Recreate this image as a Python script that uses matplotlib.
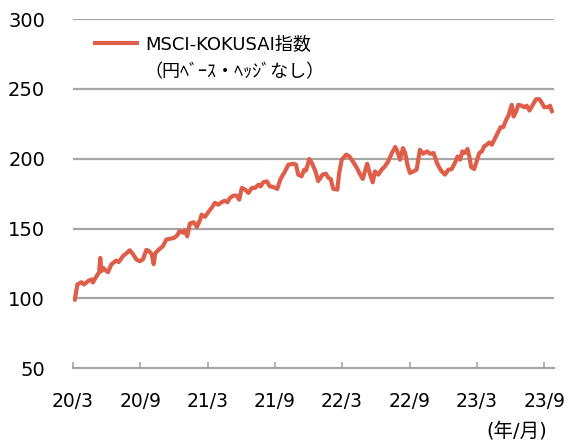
import matplotlib
matplotlib.use("Agg")
import matplotlib.pyplot as plt
import pandas as pd

plt.rcParams['font.family'] = ['DejaVu Sans', 'Noto Sans CJK JP']

dates = [
    "2020-03-31", "2020-04-05", "2020-04-12", "2020-04-23", "2020-04-30", "2020-05-11", "2020-05-20", "2020-05-24",
    "2020-06-02", "2020-06-10", "2020-06-13", "2020-06-16", "2020-06-21", "2020-06-27", "2020-07-04", "2020-07-13",
    "2020-07-26", "2020-08-02", "2020-08-14", "2020-08-23", "2020-09-01", "2020-09-10", "2020-09-19", "2020-09-28",
    "2020-10-07", "2020-10-16", "2020-10-23", "2020-10-31", "2020-11-05", "2020-11-09", "2020-11-19", "2020-11-30",
    "2020-12-09", "2020-12-18", "2020-12-30", "2021-01-08", "2021-01-14", "2021-01-23", "2021-01-28", "2021-02-04",
    "2021-02-11", "2021-02-22", "2021-03-02", "2021-03-11", "2021-03-15", "2021-03-24", "2021-04-02", "2021-04-11",
    "2021-04-20", "2021-04-29", "2021-05-08", "2021-05-17", "2021-05-24", "2021-05-31", "2021-06-09", "2021-06-18",
    "2021-06-25", "2021-07-02", "2021-07-11", "2021-07-20", "2021-07-29", "2021-08-07", "2021-08-16", "2021-08-22",
    "2021-08-29", "2021-09-08", "2021-09-16", "2021-09-25", "2021-10-06", "2021-10-15", "2021-10-27", "2021-11-05",
    "2021-11-19", "2021-11-26", "2021-12-02", "2021-12-11", "2021-12-18", "2021-12-23", "2022-01-01", "2022-01-08",
    "2022-01-17", "2022-01-25", "2022-02-06", "2022-02-15", "2022-02-22", "2022-02-28", "2022-03-07", "2022-03-18",
    "2022-03-23", "2022-03-30", "2022-04-11", "2022-04-20", "2022-04-29", "2022-05-10", "2022-05-19", "2022-05-26",
    "2022-06-01", "2022-06-07", "2022-06-15", "2022-06-22", "2022-06-28", "2022-07-07", "2022-07-16", "2022-07-25",
    "2022-08-03", "2022-08-13", "2022-08-22", "2022-08-28", "2022-09-04", "2022-09-12", "2022-09-18", "2022-09-24",
    "2022-10-01", "2022-10-10", "2022-10-19", "2022-10-28", "2022-11-06", "2022-11-16", "2022-11-25", "2022-12-04",
    "2022-12-13", "2022-12-20", "2022-12-26", "2023-01-04", "2023-01-13", "2023-01-22", "2023-01-31", "2023-02-07",
    "2023-02-14", "2023-02-20", "2023-02-27", "2023-03-06", "2023-03-11", "2023-03-16", "2023-03-24", "2023-03-31",
    "2023-04-07", "2023-04-14", "2023-04-20", "2023-04-27", "2023-05-04", "2023-05-11", "2023-05-20", "2023-05-29",
    "2023-06-04", "2023-06-11", "2023-06-19", "2023-06-25", "2023-06-30", "2023-07-04", "2023-07-09", "2023-07-16",
    "2023-07-22", "2023-07-31", "2023-08-07", "2023-08-14", "2023-08-21", "2023-08-30", "2023-09-08", "2023-09-17",
    "2023-09-24", "2023-09-30", "2023-10-09", "2023-10-16", "2023-10-23",
]

values = [
    100.0, 99.0, 110.0, 111.6, 110.0, 112.4, 113.6, 111.4,
    115.5, 118.8, 129.0, 119.5, 121.9, 120.2, 118.8, 124.3,
    127.1, 126.0, 130.4, 132.3, 134.5, 131.6, 127.9, 126.6,
    128.0, 134.7, 134.0, 131.4, 124.5, 132.3, 135.0, 137.4,
    142.1, 142.6, 143.3, 145.2, 148.2, 147.0, 148.8, 144.5,
    153.6, 154.5, 151.2, 156.4, 160.0, 158.4, 161.7, 164.8,
    168.4, 167.1, 168.8, 170.0, 168.8, 172.0, 173.6, 173.6,
    170.7, 179.1, 177.9, 175.5, 179.1, 179.1, 181.4, 180.2,
    183.1, 183.8, 180.2, 179.8, 178.4, 185.5, 190.9, 195.7,
    196.4, 195.7, 188.6, 187.4, 192.1, 191.6, 199.8, 196.9,
    191.5, 184.0, 188.6, 189.3, 186.2, 185.5, 178.4, 177.9,
    189.8, 199.3, 202.9, 201.6, 198.1, 193.4, 188.6, 185.5,
    190.9, 196.4, 188.6, 183.1, 190.9, 188.6, 192.1, 194.5,
    198.1, 204.1, 208.4, 205.2, 199.3, 207.6, 204.1, 195.7,
    189.8, 190.9, 192.1, 206.4, 203.6, 205.2, 203.5, 204.1,
    197.0, 193.4, 191.0, 188.6, 192.1, 192.6, 197.0, 201.6,
    199.3, 205.2, 204.1, 207.0, 201.6, 194.0, 192.6, 198.1,
    204.1, 205.2, 208.8, 210.0, 211.6, 210.0, 214.8, 219.5,
    222.6, 222.6, 227.9, 230.7, 235.0, 238.6, 230.2, 233.8,
    238.6, 237.9, 236.9, 237.9, 234.5, 238.6, 242.6, 242.6,
    239.8, 236.9, 236.9, 237.9, 232.6,
]

tick_dates = ["2020-03-31", "2020-09-30", "2021-03-31", "2021-09-30",
              "2022-03-31", "2022-09-30", "2023-03-31", "2023-09-30"]
tick_labels = ["20/3", "20/9", "21/3", "21/9", "22/3", "22/9", "23/3", "23/9"]
y_ticks = [50, 100, 150, 200, 250, 300]

series_label = "MSCI-KOKUSAI指数"
series_note = "（円ﾍﾞｰｽ・ﾍｯｼﾞなし）"
unit_label = "(年/月)"

line_color = "#DF5E4A"
grid_color = "#A6A6A6"

x = pd.to_datetime(dates)

fig = plt.figure(figsize=(5.70, 4.41), dpi=100)
ax = fig.add_axes([0.128, 0.1649, 0.8448, 0.792])

ax.plot(x, values, color=line_color, lw=3.0, solid_joinstyle='round',
        solid_capstyle='butt', label=series_label, zorder=3)

ax.set_ylim(50, 300)
ax.set_yticks(y_ticks)
ax.set_xlim(pd.Timestamp("2020-03-31"), pd.Timestamp("2023-10-28"))
ax.set_xticks(pd.to_datetime(tick_dates))
ax.set_xticklabels(tick_labels)

for v in y_ticks[1:]:
    ax.axhline(v, color=grid_color, lw=1.6, zorder=1)

for s in ["top", "right", "left"]:
    ax.spines[s].set_visible(False)
ax.spines["bottom"].set_color(grid_color)
ax.spines["bottom"].set_linewidth(1.6)

ax.tick_params(axis='y', length=0, pad=20, labelsize=14, colors='black')
ax.tick_params(axis='x', direction='in', length=4, width=1.2, color=grid_color,
               pad=17, labelsize=13.5, labelcolor='black')

leg = ax.legend(loc='center left', bbox_to_anchor=(0.0415, 0.928), frameon=False,
                borderpad=0, borderaxespad=0, handlelength=2.57, handletextpad=0.3,
                prop={'family': ['DejaVu Sans', 'Noto Sans CJK JP'], 'size': 13})
ax.text(0.336, 0.848, series_note, transform=ax.transAxes, ha='center', va='center',
        fontsize=13, family=['Noto Sans CJK JP', 'DejaVu Sans'])

fig.text(547 / 570, 1 - 431 / 441, unit_label, ha='right', va='center', fontsize=14,
         family=['DejaVu Sans', 'Noto Sans CJK JP'])

fig.savefig("out.png", dpi=100)
